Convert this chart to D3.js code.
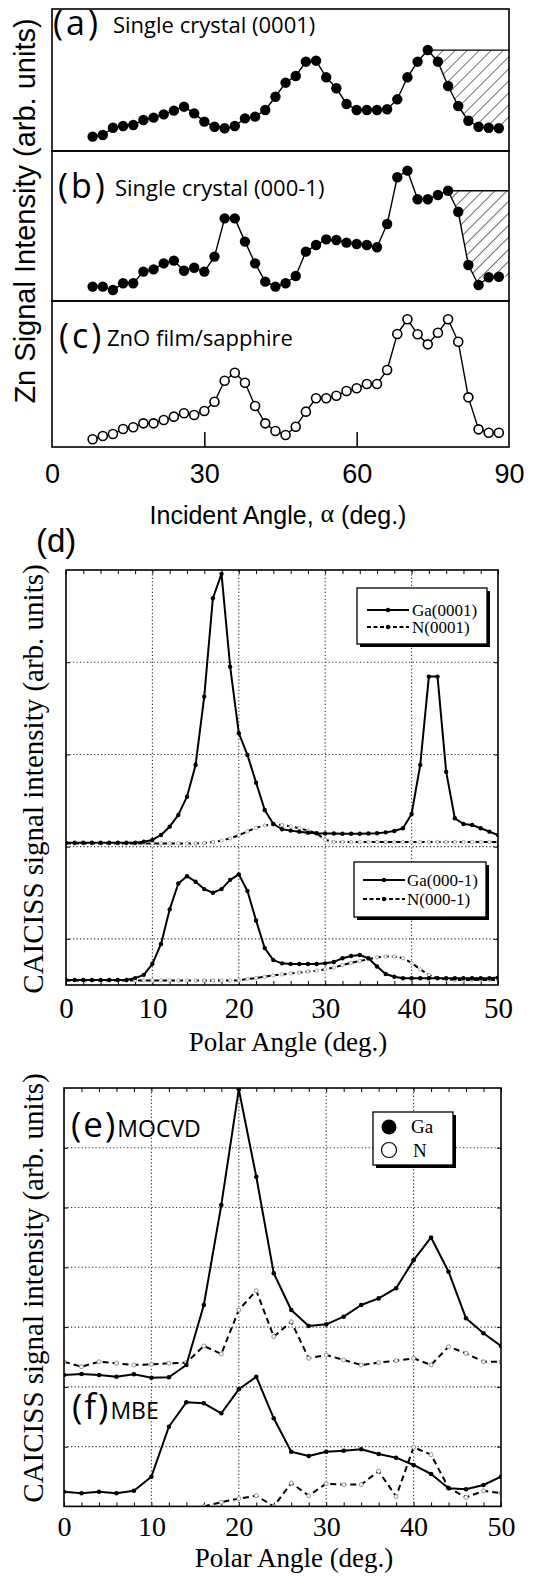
<!DOCTYPE html>
<html>
<head>
<meta charset="utf-8">
<script src="https://cdn.jsdelivr.net/npm/d3@7/dist/d3.min.js"></script>
<style>
  html, body { margin: 0; padding: 0; background: #fff; }
  svg { display: block; }
</style>
</head>
<body>
<svg id="fig" width="543" height="1576"></svg>
<script>
// ---------- Zn signal vs. incident angle (panels a–c) ----------
const incidentAngles = [8,10,12,14,16,18,20,22,24,26,28,30,32,34,36,38,40,42,44,46,48,50,52,54,56,58,60,62,64,66,68,70,72,74,76,78,80,82,84,86,88];
const znSingle0001 = [10.1,11.3,16.4,17.6,18.3,21.8,23.5,25.8,28.4,31.2,26.5,20.7,17.1,16.0,17.6,23.0,24.2,28.9,38.2,48.1,52.8,62.9,63.6,51.9,44.2,33.1,28.9,28.9,28.9,29.4,36.4,51.9,62.9,71.1,62.9,45.8,31.7,21.3,17.1,16.4,16.0];
const znSingle000m1 = [9.6,9.6,7.3,11.8,11.8,19.6,21.1,25.1,26.9,20.2,22.2,19.6,29.6,55.1,55.1,39.6,25.1,12.9,9.6,11.8,16.7,32.9,37.3,41.1,40.7,38.9,38.0,37.3,35.8,51.3,82.5,86.9,67.8,67.8,70.7,73.5,59.5,24.0,10.7,15.8,16.2];
const znFilmSapphire = [5.3,7.5,8.9,12.3,13.5,16.2,16.2,18.5,20.8,23.1,21.9,24.7,31.0,45.4,50.9,44.0,28.1,16.2,11.0,8.2,13.9,24.2,33.4,33.4,35.1,38.4,40.2,43.2,43.2,52.7,77.4,87.5,77.2,70.3,78.3,87.5,72.1,34.0,12.1,9.8,9.8];
const incidentTicks = [0, 30, 60, 90];
const incidentInnerTicks = [30, 60];
const hatchFromA = 74;   // shaded region starts at this angle in (a)
const hatchFromB = 78;   // ... and at this angle in (b)

// ---------- CAICISS polar scans of GaN (panel d) ----------
const polarAnglesD = [0,1,2,3,4,5,6,7,8,9,10,11,12,13,14,15,16,17,18,19,20,21,22,23,24,25,26,27,28,29,30,31,32,33,34,35,36,37,38,39,40,41,42,43,44,45,46,47,48,49,50];
const ga0001 = [1.543,1.543,1.543,1.543,1.543,1.543,1.543,1.543,1.543,1.554,1.573,1.627,1.717,1.844,2.042,2.386,3.127,4.194,4.458,3.452,2.730,2.495,2.194,1.898,1.746,1.689,1.674,1.663,1.652,1.645,1.643,1.643,1.640,1.640,1.640,1.643,1.645,1.655,1.670,1.700,1.855,2.386,3.344,3.344,2.313,1.808,1.746,1.735,1.700,1.663,1.627];
const n0001 = [1.535,1.535,1.535,1.535,1.535,1.535,1.535,1.535,1.535,1.535,1.535,1.535,1.535,1.535,1.535,1.535,1.540,1.550,1.565,1.590,1.625,1.665,1.705,1.730,1.740,1.735,1.720,1.700,1.675,1.645,1.575,1.550,1.550,1.550,1.550,1.550,1.550,1.550,1.550,1.550,1.550,1.550,1.550,1.550,1.550,1.550,1.550,1.550,1.550,1.550,1.550];
const ga000m1 = [0.055,0.055,0.055,0.055,0.055,0.055,0.055,0.055,0.075,0.110,0.230,0.445,0.820,1.100,1.180,1.120,1.040,1.000,1.040,1.140,1.200,1.020,0.700,0.400,0.270,0.235,0.228,0.228,0.228,0.228,0.235,0.250,0.290,0.315,0.325,0.290,0.200,0.120,0.090,0.073,0.073,0.073,0.073,0.073,0.073,0.073,0.073,0.073,0.073,0.073,0.080];
const n000m1 = [0.050,0.050,0.050,0.050,0.050,0.050,0.050,0.050,0.050,0.050,0.050,0.050,0.050,0.050,0.050,0.050,0.050,0.050,0.050,0.050,0.050,0.065,0.075,0.090,0.105,0.115,0.125,0.135,0.145,0.155,0.170,0.190,0.215,0.240,0.260,0.280,0.300,0.310,0.310,0.290,0.240,0.170,0.110,0.075,0.062,0.055,0.055,0.055,0.055,0.055,0.055];
const polarTicks = [0, 10, 20, 30, 40, 50];
const polarMinorTicks = [0,2,4,6,8,10,12,14,16,18,20,22,24,26,28,30,32,34,36,38,40,42,44,46,48,50];
const gridPolar = [10, 20, 30, 40];
const gridD = [0.5, 1.5, 2.5, 3.5];

// ---------- MOCVD (e) and MBE (f) GaN films ----------
const polarAnglesEF = [0,2,4,6,8,10,12,14,16,18,20,22,24,26,28,30,32,34,36,38,40,42,44,46,48,50];
const gaMOCVD = [2.198,2.215,2.198,2.170,2.210,2.153,2.160,2.366,3.370,5.043,6.980,5.516,3.900,3.286,3.018,3.046,3.174,3.370,3.480,3.650,4.120,4.500,3.927,3.147,2.896,2.684];
const nMOCVD  = [2.420,2.337,2.420,2.394,2.366,2.377,2.394,2.405,2.684,2.550,3.286,3.609,2.840,3.090,2.478,2.533,2.450,2.366,2.405,2.438,2.478,2.366,2.672,2.561,2.420,2.420];
const gaMBE   = [0.246,0.219,0.246,0.219,0.263,0.497,1.333,1.742,1.725,1.558,1.959,2.170,1.474,0.915,0.843,0.915,0.932,0.955,0.877,0.815,0.693,0.542,0.303,0.286,0.358,0.497];
const nMBE    = [null,null,null,null,null,null,null,null,0.000,0.070,0.130,0.180,0.000,0.390,0.180,0.380,0.365,0.365,0.590,0.165,0.990,0.865,0.310,0.150,0.260,0.220];
const gridEF = [1, 2, 3, 4, 5, 6];

// ---------- fonts ----------
const SANS = "'Liberation Sans', Arial, sans-serif";
const CAL = "'Open Sans', 'Noto Sans', sans-serif";
const SERIF = "'Liberation Serif', 'Times New Roman', serif";

const svg = d3.select("#fig");
const defs = svg.append("defs");

// diagonal hatching for the shaded regions
const pat = defs.append("pattern").attr("id", "hatch").attr("patternUnits", "userSpaceOnUse")
  .attr("width", 8.5).attr("height", 8.5).attr("patternTransform", "rotate(45)");
pat.append("line").attr("x1", 0).attr("y1", 0).attr("x2", 0).attr("y2", 8.5)
  .attr("stroke", "#000").attr("stroke-width", 1.1);

function clip(id, x, y, w, h) {
  defs.append("clipPath").attr("id", id).append("rect").attr("x", x).attr("y", y).attr("width", w).attr("height", h);
  return `url(#${id})`;
}

function pairs(xs, ys) {
  return xs.map((a, i) => [a, ys[i]]).filter(p => p[1] != null);
}

function drawSeries(g, xs, ys, x, y, o) {
  const pts = pairs(xs, ys);
  g.append("path").datum(pts)
    .attr("d", d3.line().x(d => x(d[0])).y(d => y(d[1])))
    .attr("fill", "none").attr("stroke", "#000").attr("stroke-width", o.lw)
    .attr("stroke-dasharray", o.dash || null).attr("stroke-linejoin", "round");
  g.selectAll(null).data(pts).enter().append("circle")
    .attr("cx", d => x(d[0])).attr("cy", d => y(d[1])).attr("r", o.r)
    .attr("fill", o.fill).attr("stroke", o.stroke || "none").attr("stroke-width", o.sw || 0);
}

/* ================= panels (a)–(c) ================= */
const xInc = d3.scaleLinear().domain([0, 90]).range([52, 509]);
const topPanels = [
  { vals: znSingle0001, top: 9, bottom: 151, filled: true, hatch: hatchFromA, tag: "(a)", title: "Single crystal (0001)", lx: 53, tx: 113, ty: 33 },
  { vals: znSingle000m1, top: 151, bottom: 301, filled: true, hatch: hatchFromB, tag: "(b)", title: "Single crystal (000-1)", lx: 58, tx: 115, ty: 196 },
  { vals: znFilmSapphire, top: 301, bottom: 447, filled: false, hatch: null, tag: "(c)", title: "ZnO film/sapphire", lx: 59, tx: 107, ty: 346 }
];

topPanels.forEach((p, i) => {
  const y = d3.scaleLinear().domain([0, 100]).range([p.bottom, p.top]);
  const g = svg.append("g").attr("clip-path", clip("cp" + i, xInc(0), p.top, xInc(90) - xInc(0), p.bottom - p.top));
  if (p.hatch != null) {
    const k = incidentAngles.indexOf(p.hatch);
    const level = p.vals[k];
    const tail = pairs(incidentAngles, p.vals).slice(k);
    const last = tail[tail.length - 1][1];
    const poly = tail.concat([[90, last], [90, level]]);
    g.append("path").datum(poly)
      .attr("d", d3.line().x(d => xInc(d[0])).y(d => y(d[1])).curve(d3.curveLinearClosed))
      .attr("fill", "url(#hatch)").attr("stroke", "none");
    g.append("line").attr("x1", xInc(p.hatch)).attr("x2", xInc(90))
      .attr("y1", y(level)).attr("y2", y(level)).attr("stroke", "#000").attr("stroke-width", 1.3);
  }
  if (p.filled) {
    drawSeries(g, incidentAngles, p.vals, xInc, y, { lw: 1.4, r: 5.2, fill: "#000" });
  } else {
    drawSeries(g, incidentAngles, p.vals, xInc, y, { lw: 1.4, r: 4.5, fill: "#fff", stroke: "#000", sw: 1.6 });
  }
  svg.append("rect").attr("x", xInc(0)).attr("y", p.top).attr("width", xInc(90) - xInc(0)).attr("height", p.bottom - p.top)
    .attr("fill", "none").attr("stroke", "#000").attr("stroke-width", 1.6);
  svg.append("text").attr("x", p.lx).attr("y", p.ty + 2).attr("font-family", CAL).attr("font-size", 34)
    .attr("letter-spacing", 3).text(p.tag);
  svg.append("text").attr("x", p.tx).attr("y", p.ty).attr("font-family", CAL).attr("font-size", 22).text(p.title);
});

// inner ticks and labels of the incident-angle axis
svg.append("g").attr("transform", "translate(0,447)")
  .call(d3.axisBottom(xInc).tickValues(incidentInnerTicks).tickSize(-15).tickFormat(""))
  .call(g => g.select(".domain").remove())
  .selectAll("line").attr("stroke", "#000").attr("stroke-width", 1.5);
svg.append("g").attr("transform", "translate(0,447)")
  .call(d3.axisBottom(xInc).tickValues(incidentTicks).tickSize(0).tickPadding(17))
  .call(g => g.select(".domain").remove())
  .attr("font-family", SANS).attr("font-size", 27)
  .selectAll("text").attr("fill", "#000");

const incLabel = svg.append("text").attr("x", 278).attr("y", 524).attr("text-anchor", "middle")
  .attr("font-family", SANS).attr("font-size", 25);
incLabel.append("tspan").text("Incident Angle, ");
incLabel.append("tspan").attr("font-family", SERIF).attr("font-size", 26).attr("dy", -2).text("α");
incLabel.append("tspan").attr("dy", 2).text(" (deg.)");

svg.append("text").attr("transform", "translate(35,211) rotate(-90)").attr("text-anchor", "middle")
  .attr("font-family", SANS).attr("font-size", 29).text("Zn Signal Intensity (arb. units)");

/* ================= panel (d) ================= */
const xD = d3.scaleLinear().domain([0, 50]).range([66, 498]);
const yD = d3.scaleLinear().domain([0, 4.5]).range([985, 570]);
const DOT = "1.2,2.3";

function frameAndGrid(x, y, gridX, gridY, ymin, ymax) {
  const g = svg.append("g");
  g.selectAll(null).data(gridX).enter().append("line")
    .attr("x1", d => x(d)).attr("x2", d => x(d)).attr("y1", y(ymin)).attr("y2", y(ymax))
    .attr("stroke", "#333").attr("stroke-width", 1.1).attr("stroke-dasharray", DOT);
  g.selectAll(null).data(gridY).enter().append("line")
    .attr("x1", x(0)).attr("x2", x(50)).attr("y1", d => y(d)).attr("y2", d => y(d))
    .attr("stroke", "#333").attr("stroke-width", 1.1).attr("stroke-dasharray", DOT);
  // minor ticks on all four sides
  const tick = (axis, tr) => svg.append("g").attr("transform", tr).call(axis)
    .call(a => a.select(".domain").remove())
    .selectAll("line").attr("stroke", "#000").attr("stroke-width", 1);
  tick(d3.axisBottom(x).tickValues(polarMinorTicks).tickSize(-4).tickFormat(""), `translate(0,${y(ymin)})`);
  tick(d3.axisTop(x).tickValues(polarMinorTicks).tickSize(-4).tickFormat(""), `translate(0,${y(ymax)})`);
  tick(d3.axisLeft(y).tickValues(gridY).tickSize(-4).tickFormat(""), `translate(${x(0)},0)`);
  tick(d3.axisRight(y).tickValues(gridY).tickSize(-4).tickFormat(""), `translate(${x(50)},0)`);
}

function frameRect(x, y, ymin, ymax) {
  svg.append("rect").attr("x", x(0)).attr("y", y(ymax)).attr("width", x(50) - x(0)).attr("height", y(ymin) - y(ymax))
    .attr("fill", "none").attr("stroke", "#000").attr("stroke-width", 1.6);
}

function polarAxis(x, yBase, pad, size) {
  svg.append("g").attr("transform", `translate(0,${yBase})`)
    .call(d3.axisBottom(x).tickValues(polarTicks).tickSize(0).tickPadding(pad))
    .call(g => g.select(".domain").remove())
    .attr("font-family", SERIF).attr("font-size", size)
    .selectAll("text").attr("fill", "#000");
}

function legendBox(x0, y0, w, h) {
  svg.append("rect").attr("x", x0 + 3).attr("y", y0 + 3).attr("width", w).attr("height", h).attr("fill", "#000");
  svg.append("rect").attr("x", x0).attr("y", y0).attr("width", w).attr("height", h)
    .attr("fill", "#fff").attr("stroke", "#000").attr("stroke-width", 1.3);
}

function legendLine(x1, x2, yy, dashed, label, tx) {
  svg.append("line").attr("x1", x1).attr("x2", x2).attr("y1", yy).attr("y2", yy)
    .attr("stroke", "#000").attr("stroke-width", 1.8).attr("stroke-dasharray", dashed ? "4,2.5" : null);
  svg.append("circle").attr("cx", (x1 + x2) / 2).attr("cy", yy).attr("r", 2.2).attr("fill", "#000");
  svg.append("text").attr("x", tx).attr("y", yy + 5.5).attr("font-family", SERIF).attr("font-size", 17).text(label);
}

frameAndGrid(xD, yD, gridPolar, gridD, 0, 4.5);
const gD = svg.append("g").attr("clip-path", clip("cpd", xD(0), yD(4.5), xD(50) - xD(0), yD(0) - yD(4.5)));
drawSeries(gD, polarAnglesD, n0001, xD, yD, { lw: 2, dash: "5,3", r: 1.7, fill: "#fff", stroke: "#999", sw: 0.8 });
drawSeries(gD, polarAnglesD, ga0001, xD, yD, { lw: 2, r: 2.2, fill: "#000" });
drawSeries(gD, polarAnglesD, n000m1, xD, yD, { lw: 2, dash: "5,3", r: 1.7, fill: "#fff", stroke: "#999", sw: 0.8 });
drawSeries(gD, polarAnglesD, ga000m1, xD, yD, { lw: 2, r: 2.2, fill: "#000" });
frameRect(xD, yD, 0, 4.5);

legendBox(357, 588, 130, 56);
legendLine(367, 409, 610, false, "Ga(0001)", 412);
legendLine(367, 409, 627, true, "N(0001)", 412);
legendBox(354, 862, 132, 55);
legendLine(363, 405, 880, false, "Ga(000-1)", 407);
legendLine(363, 405, 899, true, "N(000-1)", 407);

polarAxis(xD, 985, 12, 29);
svg.append("text").attr("x", 288).attr("y", 1051).attr("text-anchor", "middle")
  .attr("font-family", SERIF).attr("font-size", 27).text("Polar Angle (deg.)");
svg.append("text").attr("x", 36).attr("y", 552).attr("font-family", SANS).attr("font-size", 33).text("(d)");
svg.append("text").attr("transform", "translate(43,779) rotate(-90)").attr("text-anchor", "middle")
  .attr("font-family", SERIF).attr("font-size", 29).text("CAICISS signal intensity (arb. units)");

/* ================= panels (e), (f) ================= */
const xE = d3.scaleLinear().domain([0, 50]).range([64, 501]);
const yE = d3.scaleLinear().domain([0, 7]).range([1506.4, 1088]);

frameAndGrid(xE, yE, gridPolar, gridEF, 0, 7);
const gE = svg.append("g").attr("clip-path", clip("cpe", xE(0), yE(7), xE(50) - xE(0), yE(0) - yE(7)));
drawSeries(gE, polarAnglesEF, nMOCVD, xE, yE, { lw: 2, dash: "6,4", r: 2, fill: "#fff", stroke: "#888", sw: 0.9 });
drawSeries(gE, polarAnglesEF, gaMOCVD, xE, yE, { lw: 2, r: 2.3, fill: "#000" });
drawSeries(gE, polarAnglesEF, nMBE, xE, yE, { lw: 2, dash: "6,4", r: 2, fill: "#fff", stroke: "#888", sw: 0.9 });
drawSeries(gE, polarAnglesEF, gaMBE, xE, yE, { lw: 2, r: 2.3, fill: "#000" });
frameRect(xE, yE, 0, 7);

legendBox(373, 1112, 80, 53);
svg.append("circle").attr("cx", 389).attr("cy", 1127).attr("r", 7.5).attr("fill", "#000");
svg.append("circle").attr("cx", 389).attr("cy", 1150).attr("r", 7.5).attr("fill", "#fff").attr("stroke", "#000").attr("stroke-width", 1.2);
svg.append("text").attr("x", 411).attr("y", 1133).attr("font-family", SERIF).attr("font-size", 19).text("Ga");
svg.append("text").attr("x", 413).attr("y", 1157).attr("font-family", SERIF).attr("font-size", 19).text("N");

const eLab = svg.append("text").attr("x", 71).attr("y", 1137).attr("font-family", CAL);
eLab.append("tspan").attr("font-size", 35).attr("letter-spacing", 2).text("(e)");
eLab.append("tspan").attr("font-size", 23).attr("letter-spacing", 0).text("MOCVD");
const fLab = svg.append("text").attr("x", 72).attr("y", 1419).attr("font-family", CAL);
fLab.append("tspan").attr("font-size", 35).attr("letter-spacing", 2).text("(f)");
fLab.append("tspan").attr("font-size", 23).attr("letter-spacing", 0).text("MBE");

polarAxis(xE, 1506.4, 10, 28);
svg.append("text").attr("x", 294).attr("y", 1567).attr("text-anchor", "middle")
  .attr("font-family", SERIF).attr("font-size", 27).text("Polar Angle (deg.)");
svg.append("text").attr("transform", "translate(43,1288) rotate(-90)").attr("text-anchor", "middle")
  .attr("font-family", SERIF).attr("font-size", 29).text("CAICISS signal intensity (arb. units)");
</script>
</body>
</html>
